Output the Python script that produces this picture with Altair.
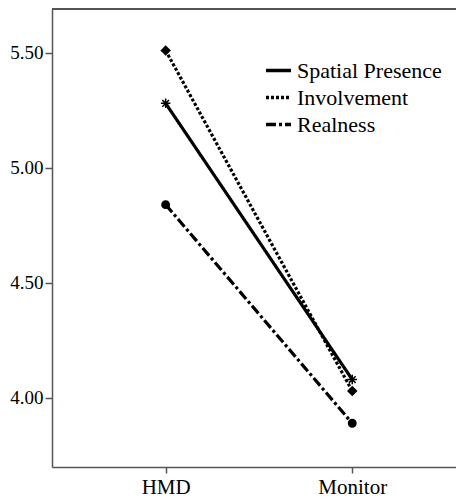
import altair as alt
import pandas as pd

conditions = ["HMD", "Monitor"]
series = ["Spatial Presence", "Involvement", "Realness"]
hmd_values = [5.28, 5.51, 4.84]
monitor_values = [4.08, 4.03, 3.89]
y_ticks = [4.0, 4.5, 5.0, 5.5]

FONT = "Liberation Serif, Times New Roman, Times, serif"

rows = []
for s, h, m in zip(series, hmd_values, monitor_values):
    rows.append({"series": s, "xi": 0, "value": h})
    rows.append({"series": s, "xi": 1, "value": m})
df = pd.DataFrame(rows)

label_expr = "datum.value == 0 ? '%s' : '%s'" % (conditions[0], conditions[1])
xscale = alt.Scale(domain=[-0.609, 1.556], nice=False, zero=False)
yscale = alt.Scale(domain=[3.70, 5.69], nice=False, zero=False)

x = alt.X("xi:Q", scale=xscale,
          axis=alt.Axis(values=[0, 1], labelExpr=label_expr, title=None, grid=False,
                        tickSize=6, labelPadding=3, labelFontSize=21))
y = alt.Y("value:Q", scale=yscale,
          axis=alt.Axis(values=y_ticks, format=".2f", title=None, grid=False,
                        tickSize=7, labelPadding=2, labelFontSize=19))

legend = alt.Legend(
    title=None, orient="none", legendX=212, legendY=47,
    symbolType="stroke", symbolSize=625,
    symbolStrokeColor="black", symbolStrokeWidth=3.5,
    labelFontSize=22, labelColor="black", labelFont=FONT,
    rowPadding=1, labelOffset=4, padding=0,
)

lines = alt.Chart(df).mark_line(color="black", strokeWidth=3.2).encode(
    x=x, y=y,
    strokeDash=alt.StrokeDash("series:N",
                              scale=alt.Scale(domain=series, range=[[1, 0], [3, 2], [10, 3, 3, 3]]),
                              legend=legend),
)

asterisk = "M0,-1L0,1M-1,0L1,0M-0.7,-0.7L0.7,0.7M-0.7,0.7L0.7,-0.7"
marker_shapes = [asterisk, "diamond", "circle"]
marker_sizes = [90, 70, 55]

point_layers = []
for s, shp, sz in zip(series, marker_shapes, marker_sizes):
    point_layers.append(
        alt.Chart(df).transform_filter(alt.datum.series == s).mark_point(
            shape=shp, size=sz, filled=True, fill="black", stroke="black",
            strokeWidth=1.5, opacity=1
        ).encode(x=x, y=y)
    )

# top frame line of the plot box
top = alt.Chart(df).mark_rule(color="#555", strokeWidth=1.5).encode(
    y=alt.datum(5.69, scale=yscale),
    x=alt.value(0),
    x2=alt.value(404),
)

chart = alt.layer(lines, *point_layers, top).properties(
    width=404, height=458,
    autosize=alt.AutoSizeParams(type="none"),
    padding={"left": 44, "top": 1, "right": 0, "bottom": 30},
).configure(font=FONT).configure_view(
    stroke=None
).configure_axis(
    domainColor="#555", domainWidth=1.5, tickColor="#555", tickWidth=1.5,
    labelColor="black", labelFont=FONT
).configure_legend(labelFont=FONT, symbolType="stroke")

chart.save("out.html", embed_options={"renderer": "svg", "actions": False})
